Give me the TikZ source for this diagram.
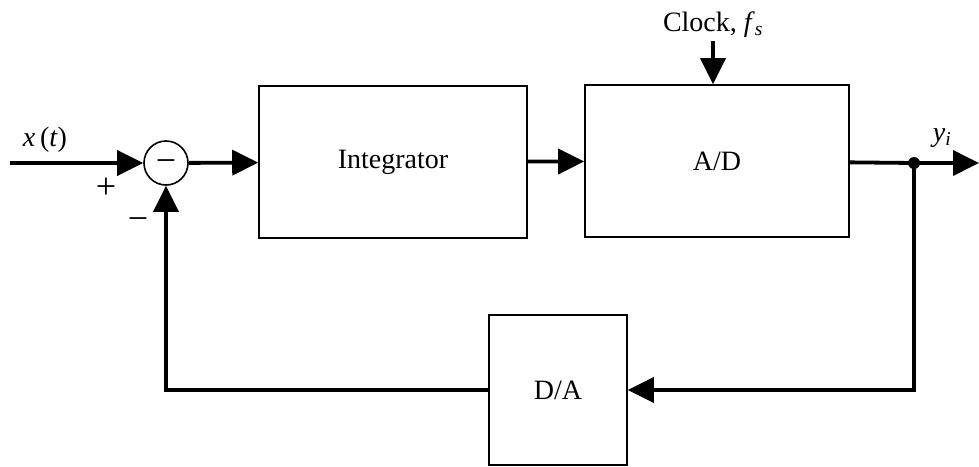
\documentclass[tikz,border=0pt]{standalone}
\usepackage{fontspec}
\setmainfont{Liberation Serif}
\usetikzlibrary{arrows.meta}
\begin{document}
\begin{tikzpicture}[x=1pt,y=-1pt,
    font=\fontsize{28}{34}\selectfont,
    blk/.style={draw,line width=1.6pt,inner sep=0pt},
    sgn/.style={font=\fontsize{36}{40}\selectfont},
    sig/.style={line width=3.8pt},
    arr/.style={sig,-{Triangle[length=26pt,width=25pt]}}]
  \useasboundingbox (0,0) rectangle (979,466);
  % blocks
  \node[draw,circle,line width=1.6pt,minimum size=44pt,inner sep=0pt,sgn,
        text height=18pt,text depth=0pt] (sum) at (166,163) {−};
  \node[blk,minimum width=268pt,minimum height=152pt] (integ) at (393,162) {Integrator};
  \node[blk,minimum width=264pt,minimum height=152pt] (ad) at (717,161) {A/D};
  \node[blk,minimum width=138pt,minimum height=150pt] (da) at (558,390) {D/A};
  \node (clk) at (713,25) {Clock, \textit{f}\textsubscript{\textit{s}}};
  \coordinate (in) at (10,163);
  \coordinate (tap) at (914,163);
  \coordinate (out) at (979,163);
  % labels
  \node (xt) at (45,140) {\textit{x}\,(\textit{t})};
  \node (yi) at (942,138) {\textit{y}\textsubscript{\textit{i}}};
  \node[sgn] (plus) at (106,188) {+};
  \node[sgn] (minus) at (138,224) {−};
  % signals
  \draw[arr] (in) -- (sum);
  \draw[arr] (sum) -- (integ);
  \draw[arr] (integ) -- (ad);
  \draw[arr] (clk) -- (clk |- ad.north);
  \draw[sig] (ad) -- (tap);
  \draw[arr] (tap) -- (out);
  \draw[arr] (tap) |- (da);
  \draw[arr] (da) -| (sum);
  \fill (tap) circle (6);
\end{tikzpicture}
\end{document}
